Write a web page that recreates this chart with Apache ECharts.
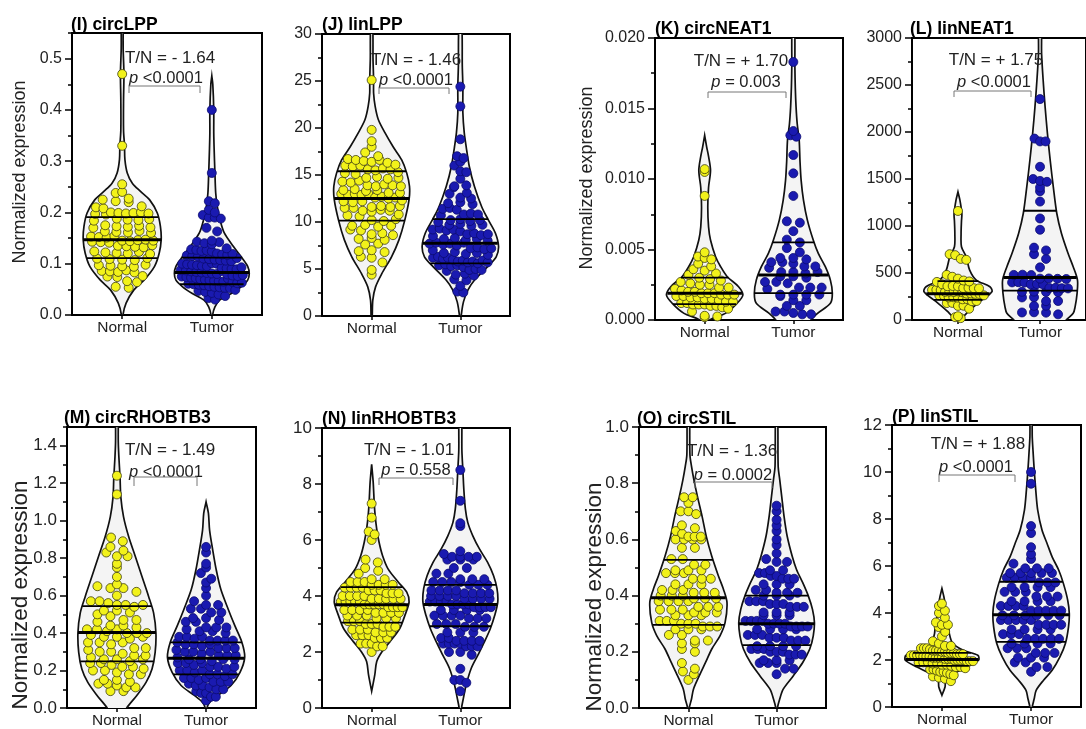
<!DOCTYPE html>
<html>
<head>
<meta charset="utf-8">
<script src="https://cdn.jsdelivr.net/npm/echarts@6/dist/echarts.min.js"></script>
<style>
  html, body { margin: 0; padding: 0; background: #fff; }
  #main { width: 1086px; height: 729px; }
</style>
</head>
<body>
<div id="main"></div>
<script>
// ---- data ----
var groupNames = ['Normal', 'Tumor'];
var titles = ['(I) circLPP', '(J) linLPP', '(K) circNEAT1', '(L) linNEAT1',
  '(M) circRHOBTB3', '(N) linRHOBTB3', '(O) circSTIL', '(P) linSTIL'];
var ratioTexts = ['T/N = - 1.64', 'T/N = - 1.46', 'T/N = + 1.70', 'T/N = + 1.75',
  'T/N = - 1.49', 'T/N = - 1.01', 'T/N = - 1.36', 'T/N = + 1.88'];
var pValues = ['<0.0001', '<0.0001', '= 0.003', '<0.0001', '<0.0001', '= 0.558', '= 0.0002', '<0.0001'];
var yMax = [0.55, 30, 0.02, 3000, 1.5, 10, 1.0, 12];
var yDecimals = [1, 0, 3, 0, 1, 0, 1, 0];
var yTicks = [
  [0, 0.1, 0.2, 0.3, 0.4, 0.5],
  [0, 5, 10, 15, 20, 25, 30],
  [0, 0.005, 0.01, 0.015, 0.02],
  [0, 500, 1000, 1500, 2000, 2500, 3000],
  [0, 0.2, 0.4, 0.6, 0.8, 1.0, 1.2, 1.4],
  [0, 2, 4, 6, 8, 10],
  [0, 0.2, 0.4, 0.6, 0.8, 1.0],
  [0, 2, 4, 6, 8, 10, 12]
];

var circLPP_normal = [0.47,0.33,0.255,0.24,0.238,0.227,0.225,0.222,0.22,0.212,0.21,0.208,0.2,0.199,0.198,0.197,0.196,0.199,0.2,0.198,0.188,0.186,0.185,0.187,0.184,0.175,0.173,0.172,0.174,0.171,0.17,0.163,0.162,0.161,0.164,0.16,0.153,0.152,0.151,0.154,0.145,0.144,0.143,0.146,0.142,0.147,0.145,0.141,0.135,0.134,0.133,0.132,0.136,0.124,0.122,0.121,0.12,0.123,0.119,0.11,0.109,0.108,0.107,0.111,0.097,0.096,0.095,0.094,0.098,0.086,0.085,0.084,0.087,0.083,0.076,0.075,0.074,0.066,0.064,0.055,0.053];
var circLPP_tumor = [0.40,0.277,0.222,0.218,0.205,0.2,0.195,0.19,0.19,0.188,0.17,0.163,0.145,0.143,0.14,0.138,0.142,0.13,0.128,0.127,0.125,0.126,0.124,0.12,0.118,0.117,0.116,0.115,0.114,0.119,0.11,0.109,0.108,0.107,0.106,0.105,0.111,0.1,0.099,0.098,0.097,0.096,0.095,0.101,0.1,0.092,0.091,0.09,0.089,0.088,0.087,0.093,0.085,0.084,0.083,0.082,0.081,0.08,0.086,0.079,0.077,0.076,0.075,0.074,0.073,0.072,0.078,0.07,0.069,0.068,0.067,0.066,0.065,0.071,0.064,0.062,0.061,0.06,0.059,0.058,0.063,0.056,0.055,0.054,0.053,0.052,0.049,0.047,0.045,0.043,0.04,0.037,0.033,0.03];
var linLPP_normal = [25.1,19.8,18.6,18.0,17.4,17.0,16.7,16.6,16.5,16.4,16.6,16.3,16.0,16.1,15.9,16.0,15.6,15.5,15.7,15.6,15.2,15.3,15.1,14.7,14.8,14.6,14.7,14.3,14.2,14.4,13.9,13.8,14.0,13.9,13.8,13.4,13.5,13.3,13.4,13.0,13.1,12.9,13.0,13.1,12.9,13.0,12.6,12.7,12.5,12.6,12.2,12.1,12.3,12.2,11.6,11.7,11.5,11.6,11.7,11.5,11.2,11.1,11.3,11.2,10.7,10.8,10.6,10.2,10.1,10.3,9.6,9.7,9.5,9.6,9.2,9.1,8.7,8.8,8.6,8.2,8.3,8.1,7.6,7.7,6.9,7.0,6.8,6.3,6.2,5.7,4.9,4.4];
var linLPP_tumor = [24.4,22.3,18.8,17.0,16.8,16.4,16.0,15.4,15.3,14.6,13.8,13.9,13.7,13.1,13.0,12.6,12.5,12.0,12.1,11.9,11.4,11.5,11.3,10.8,10.9,10.7,10.8,10.2,10.3,10.1,10.2,10.0,9.7,9.8,9.6,9.7,9.2,9.3,9.1,9.2,9.0,8.7,8.8,8.6,8.7,8.5,8.2,8.3,8.1,8.2,8.0,7.7,7.8,7.6,7.7,7.5,7.8,7.2,7.3,7.1,7.2,7.0,6.7,6.8,6.6,6.7,6.5,6.2,6.3,6.1,6.2,6.0,5.8,5.9,5.7,5.8,5.6,5.9,5.7,5.4,5.5,5.3,5.4,5.2,4.9,5.0,4.8,4.9,4.4,4.5,4.3,3.9,3.8,3.2,2.6,2.5];
var circNEAT1_normal = [0.0107,0.0105,0.0088,0.0048,0.0045,0.0044,0.0043,0.0040,0.0038,0.0036,0.0035,0.0033,0.0032,0.0030,0.0029,0.0028,0.0027,0.0026,0.0025,0.0025,0.0023,0.0023,0.0022,0.0021,0.0020,0.0020,0.0019,0.0019,0.0019,0.0018,0.0018,0.0018,0.0017,0.0017,0.0016,0.0016,0.0015,0.0015,0.0014,0.0013,0.0013,0.0012,0.0012,0.0011,0.0011,0.0011,0.0010,0.0010,0.0009,0.0008,0.0006,0.0003,0.00025,0.0002];
var circNEAT1_tumor = [0.0183,0.0134,0.0131,0.0130,0.0117,0.0104,0.0088,0.0070,0.0069,0.0063,0.0057,0.0055,0.0051,0.0048,0.0044,0.0044,0.0043,0.0041,0.0041,0.0040,0.0038,0.0038,0.0037,0.0034,0.0034,0.0033,0.0034,0.0031,0.0031,0.0030,0.0027,0.0027,0.0026,0.0023,0.0023,0.0022,0.0023,0.0018,0.0018,0.0018,0.0017,0.0018,0.0014,0.0014,0.0010,0.0010,0.0006,0.0006,0.0005,0.0004,0.0004];
var linNEAT1_normal = [1160,700,690,650,640,480,460,440,420,410,405,380,360,362,358,340,342,338,336,320,322,318,300,302,298,304,296,280,282,278,276,260,262,258,240,242,238,220,222,200,202,180,182,150,152,120,40,30,20];
var linNEAT1_tumor = [2350,1930,1900,1900,1630,1500,1480,1470,1410,1370,1260,1080,960,770,740,700,650,560,480,482,478,440,442,438,436,400,402,398,380,382,378,340,342,338,336,300,302,298,296,240,242,200,202,150,152,80,82,78,60];
var circRHOBTB3_normal = [1.24,1.14,0.91,0.89,0.86,0.84,0.83,0.81,0.81,0.77,0.75,0.70,0.66,0.65,0.64,0.64,0.62,0.6,0.57,0.57,0.56,0.55,0.55,0.54,0.55,0.52,0.52,0.51,0.5,0.49,0.47,0.47,0.46,0.44,0.44,0.43,0.42,0.42,0.41,0.42,0.4,0.4,0.39,0.4,0.38,0.38,0.37,0.38,0.35,0.35,0.34,0.35,0.32,0.32,0.31,0.3,0.3,0.29,0.28,0.28,0.27,0.26,0.26,0.25,0.26,0.24,0.24,0.23,0.22,0.22,0.21,0.2,0.2,0.19,0.18,0.18,0.15,0.15,0.14,0.13,0.13,0.12,0.11,0.11,0.09,0.09];
var circRHOBTB3_tumor = [0.86,0.83,0.77,0.75,0.72,0.69,0.67,0.64,0.6,0.57,0.55,0.55,0.53,0.53,0.51,0.51,0.48,0.48,0.47,0.46,0.46,0.43,0.43,0.42,0.43,0.41,0.41,0.4,0.38,0.38,0.37,0.38,0.36,0.36,0.35,0.36,0.36,0.34,0.34,0.33,0.34,0.32,0.32,0.31,0.32,0.3,0.3,0.29,0.3,0.28,0.28,0.27,0.28,0.26,0.26,0.25,0.26,0.26,0.24,0.24,0.23,0.24,0.22,0.22,0.21,0.22,0.2,0.2,0.19,0.2,0.18,0.18,0.17,0.18,0.16,0.16,0.15,0.16,0.14,0.14,0.13,0.14,0.12,0.12,0.11,0.1,0.1,0.09,0.08,0.08,0.06,0.06,0.04];
var linRHOBTB3_normal = [7.3,6.8,6.3,6.2,6.0,5.3,5.2,5.0,4.9,4.8,4.6,4.6,4.5,4.5,4.5,4.4,4.4,4.4,4.4,4.3,4.3,4.3,4.3,4.2,4.2,4.2,4.1,4.1,4.1,4.0,4.0,4.0,4.0,3.9,3.9,3.9,3.9,3.9,3.8,3.8,3.8,3.8,3.8,3.7,3.7,3.7,3.7,3.7,3.6,3.6,3.6,3.6,3.5,3.5,3.5,3.5,3.4,3.4,3.4,3.4,3.3,3.3,3.3,3.2,3.2,3.2,3.1,3.1,3.1,3.0,3.0,3.0,2.9,2.9,2.9,2.8,2.8,2.8,2.7,2.7,2.7,2.6,2.6,2.6,2.5,2.5,2.5,2.3,2.3,2.3,2.2,2.2,2.0];
var linRHOBTB3_tumor = [8.5,7.4,6.6,6.5,5.6,5.5,5.4,5.4,5.4,5.4,5.3,5.3,5.3,5.0,5.0,4.8,4.8,4.6,4.6,4.6,4.5,4.5,4.5,4.5,4.4,4.4,4.4,4.2,4.2,4.2,4.2,4.1,4.1,4.1,4.1,4.0,4.0,4.0,4.0,3.9,3.9,3.9,3.9,3.8,3.8,3.8,3.8,3.7,3.7,3.7,3.7,3.6,3.6,3.6,3.6,3.5,3.5,3.5,3.5,3.3,3.3,3.3,3.3,3.2,3.2,3.2,3.0,3.0,3.0,2.9,2.9,2.9,2.7,2.7,2.7,2.5,2.5,2.4,2.4,2.4,2.4,2.3,2.3,2.3,2.3,2.2,2.2,2.2,2.0,2.0,1.9,1.4,1.0,1.0,0.9,0.6];
var circSTIL_normal = [0.75,0.75,0.73,0.70,0.70,0.69,0.65,0.64,0.63,0.62,0.61,0.61,0.61,0.6,0.6,0.6,0.6,0.57,0.57,0.53,0.53,0.51,0.51,0.49,0.49,0.49,0.48,0.48,0.48,0.46,0.46,0.46,0.44,0.44,0.44,0.42,0.42,0.42,0.41,0.41,0.41,0.4,0.4,0.4,0.39,0.39,0.39,0.38,0.38,0.38,0.38,0.36,0.36,0.36,0.35,0.35,0.35,0.34,0.34,0.34,0.33,0.33,0.33,0.31,0.31,0.31,0.3,0.3,0.3,0.29,0.29,0.29,0.28,0.28,0.28,0.26,0.26,0.24,0.24,0.23,0.23,0.21,0.2,0.16,0.14,0.13,0.12,0.1];
var circSTIL_tumor = [0.72,0.70,0.67,0.65,0.63,0.6,0.58,0.55,0.53,0.52,0.52,0.49,0.49,0.48,0.48,0.47,0.47,0.46,0.46,0.46,0.44,0.44,0.44,0.42,0.42,0.41,0.41,0.41,0.4,0.4,0.4,0.38,0.38,0.38,0.37,0.37,0.37,0.36,0.36,0.36,0.34,0.34,0.34,0.33,0.33,0.33,0.31,0.31,0.31,0.31,0.3,0.3,0.3,0.3,0.29,0.29,0.29,0.29,0.28,0.28,0.28,0.28,0.26,0.26,0.26,0.25,0.25,0.25,0.24,0.24,0.24,0.22,0.22,0.22,0.22,0.21,0.21,0.21,0.2,0.2,0.2,0.19,0.19,0.19,0.17,0.17,0.17,0.16,0.16,0.16,0.14,0.14,0.12];
var linSTIL_normal = [4.4,4.3,4.1,4.0,3.8,3.6,3.5,3.5,3.4,3.2,3.0,2.8,2.7,2.6,2.6,2.5,2.5,2.5,2.45,2.4,2.4,2.4,2.35,2.35,2.3,2.3,2.3,2.25,2.25,2.25,2.2,2.2,2.2,2.2,2.15,2.15,2.15,2.1,2.1,2.1,2.1,2.05,2.05,2.05,2.0,2.0,2.0,2.0,1.95,1.95,1.95,1.9,1.9,1.9,1.85,1.85,1.8,1.8,1.75,1.7,1.7,1.65,1.6,1.6,1.55,1.5,1.5,1.45,1.4,1.35,1.3,1.25,1.2,1.1];
var linSTIL_tumor = [10.0,9.5,7.7,7.4,6.8,6.5,6.3,6.1,5.9,5.9,5.9,5.7,5.7,5.7,5.7,5.7,5.5,5.5,5.5,5.5,5.3,5.3,5.3,5.1,5.1,5.1,5.1,4.9,4.9,4.9,4.7,4.7,4.7,4.5,4.5,4.5,4.5,4.3,4.3,4.3,4.3,4.1,4.1,4.1,4.1,4.1,3.9,3.9,3.9,3.9,3.9,3.9,3.7,3.7,3.7,3.7,3.7,3.5,3.5,3.5,3.5,3.3,3.3,3.3,3.3,3.1,3.1,3.1,2.9,2.9,2.9,2.9,2.9,2.7,2.7,2.7,2.7,2.5,2.5,2.5,2.3,2.3,2.3,2.1,2.1,2.1,1.9,1.9,1.7,1.7,1.5];

// violin outlines: [value, relative half width]
var circLPP_normalShape = [[-0.02,0.01],[0,0.02],[0.023,0.1],[0.049,0.3],[0.068,0.56],[0.095,0.83],[0.121,0.95],[0.147,1.0],[0.173,0.98],[0.199,0.9],[0.225,0.7],[0.241,0.47],[0.257,0.26],[0.277,0.13],[0.303,0.07],[0.33,0.06],[0.36,0.035],[0.42,0.035],[0.47,0.045],[0.52,0.025],[0.6,0.02]];
var circLPP_tumorShape = [[-0.02,0.01],[0,0.02],[0.016,0.08],[0.029,0.2],[0.042,0.5],[0.055,0.75],[0.068,0.92],[0.081,0.96],[0.095,0.92],[0.114,0.75],[0.134,0.55],[0.16,0.32],[0.186,0.21],[0.212,0.14],[0.238,0.1],[0.277,0.08],[0.323,0.06],[0.355,0.05],[0.4,0.05],[0.45,0.025],[0.466,0]];
var linLPP_normalShape = [[-0.5,0.01],[0,0.015],[1.7,0.03],[3.1,0.1],[4.5,0.26],[6.3,0.51],[8.1,0.7],[10.2,0.85],[12.4,0.96],[13.8,0.97],[15.2,0.9],[16.6,0.77],[18.0,0.55],[19.5,0.34],[20.9,0.17],[22.3,0.09],[23.7,0.05],[25.1,0.05],[27.3,0.035],[31,0.025]];
var linLPP_tumorShape = [[-0.5,0.01],[0,0.02],[1.5,0.08],[2.8,0.2],[3.8,0.36],[5.25,0.7],[6.3,0.92],[7.4,0.98],[8.8,0.9],[10.2,0.72],[11.6,0.55],[13.8,0.36],[15.9,0.23],[18.0,0.15],[19.5,0.1],[21.6,0.065],[24.4,0.065],[26.6,0.05],[31,0.035]];
var circNEAT1_normalShape = [[-0.0005,0.05],[0,0.13],[0.00047,0.53],[0.00118,0.83],[0.00177,0.98],[0.00236,0.87],[0.00307,0.58],[0.00378,0.41],[0.00449,0.28],[0.00567,0.15],[0.0066,0.1],[0.008,0.08],[0.0094,0.1],[0.0106,0.15],[0.0116,0.1],[0.0123,0.05],[0.0131,0]];
var circNEAT1_tumorShape = [[-0.0008,0.3],[0,0.45],[0.00047,0.62],[0.00118,0.95],[0.0019,1.0],[0.00283,0.95],[0.00378,0.82],[0.00472,0.64],[0.00567,0.51],[0.00708,0.36],[0.0085,0.26],[0.0099,0.2],[0.0113,0.17],[0.01275,0.15],[0.0139,0.1],[0.0151,0.07],[0.0165,0.05],[0.0179,0.04],[0.021,0.03]];
var linNEAT1_normalShape = [[-60,0],[0,0.08],[89,0.26],[195,0.56],[300,0.87],[354,0.82],[425,0.47],[531,0.3],[673,0.21],[779,0.09],[920,0.08],[1050,0.09],[1133,0.1],[1275,0.05],[1363,0]];
var linNEAT1_tumorShape = [[-100,0.5],[0,0.67],[71,0.85],[142,0.9],[283,0.95],[425,0.96],[567,0.85],[708,0.72],[921,0.55],[1133,0.43],[1417,0.34],[1700,0.26],[1983,0.19],[2267,0.13],[2550,0.08],[2833,0.04],[3100,0.03]];
var circRHOBTB3_normalShape = [[-0.06,0.1],[0,0.25],[0.067,0.51],[0.138,0.75],[0.208,0.9],[0.297,0.98],[0.4,1.0],[0.508,0.94],[0.597,0.81],[0.703,0.64],[0.81,0.47],[0.915,0.3],[1.02,0.17],[1.126,0.1],[1.23,0.08],[1.34,0.05],[1.42,0.035],[1.6,0.025]];
var circRHOBTB3_tumorShape = [[-0.03,0.01],[0,0.02],[0.032,0.1],[0.067,0.3],[0.12,0.64],[0.19,0.87],[0.27,0.99],[0.35,0.92],[0.438,0.74],[0.526,0.57],[0.632,0.38],[0.738,0.26],[0.844,0.17],[0.95,0.09],[1.04,0.06],[1.1,0]];
var linRHOBTB3_normalShape = [[0.6,0],[1.18,0.08],[1.66,0.13],[2.0,0.26],[2.37,0.47],[2.84,0.72],[3.3,0.85],[3.79,0.96],[4.14,0.9],[4.5,0.68],[4.97,0.42],[5.44,0.28],[5.92,0.19],[6.39,0.13],[6.86,0.09],[7.34,0.065],[8.05,0.04],[8.7,0]];
var linRHOBTB3_tumorShape = [[-0.3,0.01],[0,0.03],[0.36,0.08],[0.83,0.15],[1.42,0.28],[1.89,0.45],[2.37,0.62],[2.84,0.77],[3.3,0.88],[3.79,0.96],[4.26,0.94],[4.73,0.85],[5.2,0.7],[5.68,0.49],[6.15,0.32],[6.63,0.19],[7.1,0.13],[7.8,0.09],[8.5,0.065],[9.2,0.04],[10.5,0.03]];
var circSTIL_normalShape = [[-0.02,0.01],[0,0.02],[0.032,0.08],[0.067,0.13],[0.115,0.28],[0.162,0.44],[0.21,0.6],[0.257,0.81],[0.304,0.94],[0.375,0.99],[0.422,0.9],[0.47,0.77],[0.54,0.6],[0.61,0.46],[0.683,0.35],[0.754,0.23],[0.813,0.14],[0.86,0.08],[0.9,0.04],[1.05,0.025]];
var circSTIL_tumorShape = [[-0.02,0.01],[0,0.02],[0.032,0.08],[0.067,0.17],[0.115,0.43],[0.162,0.67],[0.21,0.85],[0.257,0.94],[0.304,0.97],[0.351,0.92],[0.4,0.81],[0.446,0.67],[0.493,0.51],[0.54,0.4],[0.612,0.27],[0.683,0.19],[0.754,0.13],[0.813,0.08],[0.86,0.04],[1.05,0.025]];
var linSTIL_normalShape = [[0.5,0],[0.85,0.08],[1.14,0.1],[1.42,0.3],[1.7,0.64],[1.99,0.94],[2.2,0.92],[2.41,0.55],[2.7,0.28],[3.12,0.19],[3.55,0.17],[3.98,0.1],[4.4,0.08],[4.69,0.05],[5.04,0]];
var linSTIL_tumorShape = [[-0.3,0.01],[0,0.03],[0.35,0.08],[0.71,0.13],[1.14,0.32],[1.56,0.54],[2.13,0.74],[2.7,0.88],[3.41,0.96],[3.98,0.98],[4.54,0.94],[5.25,0.83],[5.82,0.71],[6.39,0.54],[6.96,0.41],[7.53,0.28],[8.38,0.17],[9.23,0.12],[10.1,0.08],[10.9,0.05],[11.5,0.03],[12.5,0.02]];

// quartiles [Q1, median, Q3] for Normal and Tumor
var circLPP_quartiles = [[0.111, 0.147, 0.191], [0.06, 0.083, 0.112]];
var linLPP_quartiles = [[10.15, 12.5, 15.4], [5.6, 7.75, 10.3]];
var circNEAT1_quartiles = [[0.00113, 0.0019, 0.003], [0.0019, 0.0032, 0.0055]];
var linNEAT1_quartiles = [[215, 280, 414], [312, 453, 1162]];
var circRHOBTB3_quartiles = [[0.249, 0.403, 0.544], [0.18, 0.265, 0.35]];
var linRHOBTB3_quartiles = [[3.05, 3.69, 4.32], [2.92, 3.7, 4.4]];
var circSTIL_quartiles = [[0.296, 0.392, 0.527], [0.224, 0.3, 0.4]];
var linSTIL_quartiles = [[1.75, 2.02, 2.3], [2.77, 3.93, 5.33]];

var panelValues = [
  [circLPP_normal, circLPP_tumor], [linLPP_normal, linLPP_tumor],
  [circNEAT1_normal, circNEAT1_tumor], [linNEAT1_normal, linNEAT1_tumor],
  [circRHOBTB3_normal, circRHOBTB3_tumor], [linRHOBTB3_normal, linRHOBTB3_tumor],
  [circSTIL_normal, circSTIL_tumor], [linSTIL_normal, linSTIL_tumor]
];
var panelShapes = [
  [circLPP_normalShape, circLPP_tumorShape], [linLPP_normalShape, linLPP_tumorShape],
  [circNEAT1_normalShape, circNEAT1_tumorShape], [linNEAT1_normalShape, linNEAT1_tumorShape],
  [circRHOBTB3_normalShape, circRHOBTB3_tumorShape], [linRHOBTB3_normalShape, linRHOBTB3_tumorShape],
  [circSTIL_normalShape, circSTIL_tumorShape], [linSTIL_normalShape, linSTIL_tumorShape]
];
var panelQuartiles = [circLPP_quartiles, linLPP_quartiles, circNEAT1_quartiles, linNEAT1_quartiles,
  circRHOBTB3_quartiles, linRHOBTB3_quartiles, circSTIL_quartiles, linSTIL_quartiles];

// ---- layout / style ----
var FONT = '"Liberation Sans", Arial, sans-serif';
var X_MIN = 0.44, X_MAX = 2.56, PLOT_H = 282, HALF = 39, DOT = 9, ROW = 7;
var dotColors = [['#f2f21a', '#3d3d10'], ['#1a1ab0', '#0b0b70']];
var layout = [
  {left: 72, top: 33, width: 190, title: [71, 25], name: [20, 172, 18], tn: [170, 58], pv: [166, 78], br: [129, 200, 86, 93]},
  {left: 322, top: 34, width: 188, title: [322, 25], name: null, tn: [416, 60], pv: [416, 80], br: [379, 449, 88, 94]},
  {left: 655, top: 38, width: 188, title: [655, 29], name: [587, 178, 18], tn: [741, 61], pv: [746, 82], br: [708, 786, 92, 98]},
  {left: 912, top: 38, width: 188, title: [910, 29], name: null, tn: [996, 60], pv: [994, 82], br: [954, 1031, 91, 97]},
  {left: 67, top: 427, width: 189, title: [64, 418], name: [21, 595, 22.5], tn: [170, 450], pv: [166, 472], br: [134, 197, 477, 486]},
  {left: 322, top: 428, width: 188, title: [322, 419], name: null, tn: [409, 450], pv: [416, 470], br: [379, 453, 478, 485]},
  {left: 639, top: 427, width: 187, title: [637, 419], name: [595, 597, 22.5], tn: [732, 451], pv: [733, 475], br: [695, 772, 482, 488]},
  {left: 892, top: 425, width: 189, title: [892, 417], name: null, tn: [978, 444], pv: [976, 467], br: [939, 1015, 475, 482]}
];

function widthAt(shape, v) {
  for (var k = 1; k < shape.length; k++) {
    if (v <= shape[k][0]) {
      var a = shape[k - 1], b = shape[k];
      var t = (v - a[0]) / (b[0] - a[0]);
      return a[1] + t * (b[1] - a[1]);
    }
  }
  return 0;
}

// dots grouped in horizontal rows, each row spread across the violin width (Prism style)
function spread(values, cx, i, shape) {
  var ky = PLOT_H / yMax[i];
  var kx = layout[i].width / (X_MAX - X_MIN);
  var rows = {};
  values.forEach(function (v) {
    var r = Math.round(v * ky / ROW);
    (rows[r] = rows[r] || []).push(v);
  });
  var out = [];
  Object.keys(rows).forEach(function (r) {
    var vals = rows[r];
    var n = vals.length;
    var hw = widthAt(shape, r * ROW / ky) * HALF;
    var sp = 0;
    if (n > 1) {
      sp = Math.min(13, 2 * hw * 0.9 / n);
      sp = Math.max(sp, n <= 4 ? 6 : 3);
    }
    vals.forEach(function (v, k) {
      out.push([cx + (k - (n - 1) / 2) * sp / kx, v]);
    });
  });
  return out;
}

var option = {
  animation: false,
  backgroundColor: '#fff',
  textStyle: {fontFamily: FONT},
  grid: [], xAxis: [], yAxis: [], series: [], graphic: []
};

layout.forEach(function (L, i) {
  var big = i >= 4;
  option.grid.push({
    left: L.left, top: L.top, width: L.width, height: PLOT_H,
    show: true, borderColor: '#000', borderWidth: 2, backgroundColor: 'transparent'
  });
  option.xAxis.push({
    gridIndex: i, type: 'value', min: X_MIN, max: X_MAX,
    axisLine: {lineStyle: {color: '#000', width: 2}},
    axisTick: {customValues: [1, 2], length: 4, lineStyle: {color: '#000', width: 1.5}},
    axisLabel: {
      customValues: [1, 2], margin: 5, fontSize: 15.5, color: '#222', fontFamily: FONT,
      formatter: function (v) {
        var r = Math.round(v);
        return Math.abs(v - r) < 1e-6 && r >= 1 && r <= 2 ? groupNames[r - 1] : '';
      }
    },
    splitLine: {show: false}
  });
  var ticks = yTicks[i];
  var step = ticks[1] - ticks[0];
  var minor = [];
  ticks.forEach(function (t) {
    if (t + step / 2 <= yMax[i] + 1e-9) minor.push(+(t + step / 2).toFixed(6));
  });
  option.yAxis.push({
    gridIndex: i, type: 'value', position: 'left', min: 0, max: yMax[i],
    axisLine: {show: true, lineStyle: {color: '#000', width: 2}},
    axisTick: {customValues: ticks, length: 7, lineStyle: {color: '#000', width: 1.5}},
    axisLabel: {
      customValues: ticks, margin: 10, fontSize: big ? 17 : 16, color: '#222', fontFamily: FONT,
      formatter: function (v) { return v.toFixed(yDecimals[i]); }
    },
    splitLine: {show: false}
  });
  option.yAxis.push({
    gridIndex: i, type: 'value', position: 'left', offset: 0, min: 0, max: yMax[i],
    axisLine: {show: false},
    axisTick: {customValues: minor, length: 4, lineStyle: {color: '#000', width: 1.5}},
    axisLabel: {show: false},
    splitLine: {show: false}
  });

  var shapes = panelShapes[i];
  option.series.push({
    type: 'custom', xAxisIndex: i, yAxisIndex: 2 * i, clip: true, z: 2, silent: true,
    data: [[1, 0], [2, 0]],
    renderItem: function (params, api) {
      var shape = shapes[params.dataIndex];
      var cx = params.dataIndex + 1;
      var right = [], left = [];
      shape.forEach(function (d) {
        var p = api.coord([cx, d[0]]);
        right.push([p[0] + d[1] * HALF, p[1]]);
        left.push([p[0] - d[1] * HALF, p[1]]);
      });
      return {
        type: 'polygon',
        shape: {points: right.concat(left.reverse()), smooth: 0.3},
        style: {fill: '#f4f4f4', stroke: '#111', lineWidth: 1.7}
      };
    }
  });

  panelValues[i].forEach(function (vals, g) {
    option.series.push({
      type: 'scatter', xAxisIndex: i, yAxisIndex: 2 * i, z: 3, silent: true,
      symbolSize: DOT,
      itemStyle: {color: dotColors[g][0], borderColor: dotColors[g][1], borderWidth: 0.8, opacity: 1},
      data: spread(vals, g + 1, i, shapes[g])
    });
  });

  var qData = [];
  panelQuartiles[i].forEach(function (q, g) {
    q.forEach(function (v, k) { qData.push([g + 1, v, k === 1 ? 1 : 0]); });
  });
  option.series.push({
    type: 'custom', xAxisIndex: i, yAxisIndex: 2 * i, z: 4, silent: true,
    data: qData,
    renderItem: function (params, api) {
      var g = api.value(0), v = api.value(1), med = api.value(2);
      var hw = widthAt(shapes[g - 1], v) * HALF;
      var p = api.coord([g, v]);
      return {
        type: 'line',
        shape: {x1: p[0] - hw, y1: p[1], x2: p[0] + hw, y2: p[1]},
        style: {stroke: '#000', lineWidth: med ? 3 : 1.8}
      };
    }
  });

  // titles, stats, bracket, axis name
  option.graphic.push({
    type: 'text', x: L.title[0], y: L.title[1], z: 10,
    style: {text: titles[i], fontSize: 17.5, fontWeight: 'bold', fontFamily: FONT, fill: '#000', align: 'left', verticalAlign: 'middle'}
  });
  option.graphic.push({
    type: 'text', x: L.tn[0], y: L.tn[1], z: 10,
    style: {text: ratioTexts[i], fontSize: 17, fontFamily: FONT, fill: '#222', align: 'center', verticalAlign: 'middle'}
  });
  option.graphic.push({
    type: 'text', x: L.pv[0], y: L.pv[1], z: 10,
    style: {
      text: '{i|p} ' + pValues[i], fontSize: 16.5, fontFamily: FONT, fill: '#222', align: 'center', verticalAlign: 'middle',
      rich: {i: {fontStyle: 'italic', fontSize: 16.5, fontFamily: FONT, fill: '#222'}}
    }
  });
  option.graphic.push({
    type: 'polyline', z: 10,
    shape: {points: [[L.br[0], L.br[3]], [L.br[0], L.br[2]], [L.br[1], L.br[2]], [L.br[1], L.br[3]]]},
    style: {stroke: '#777', lineWidth: 1, fill: null}
  });
  if (L.name) {
    option.graphic.push({
      type: 'text', x: L.name[0], y: L.name[1], rotation: Math.PI / 2, z: 10,
      style: {text: 'Normalized expression', fontSize: L.name[2], fontFamily: FONT, fill: '#222', align: 'center', verticalAlign: 'middle'}
    });
  }
});

var chart = echarts.init(document.getElementById('main'), null, {renderer: 'canvas'});
chart.setOption(option);
</script>
</body>
</html>
